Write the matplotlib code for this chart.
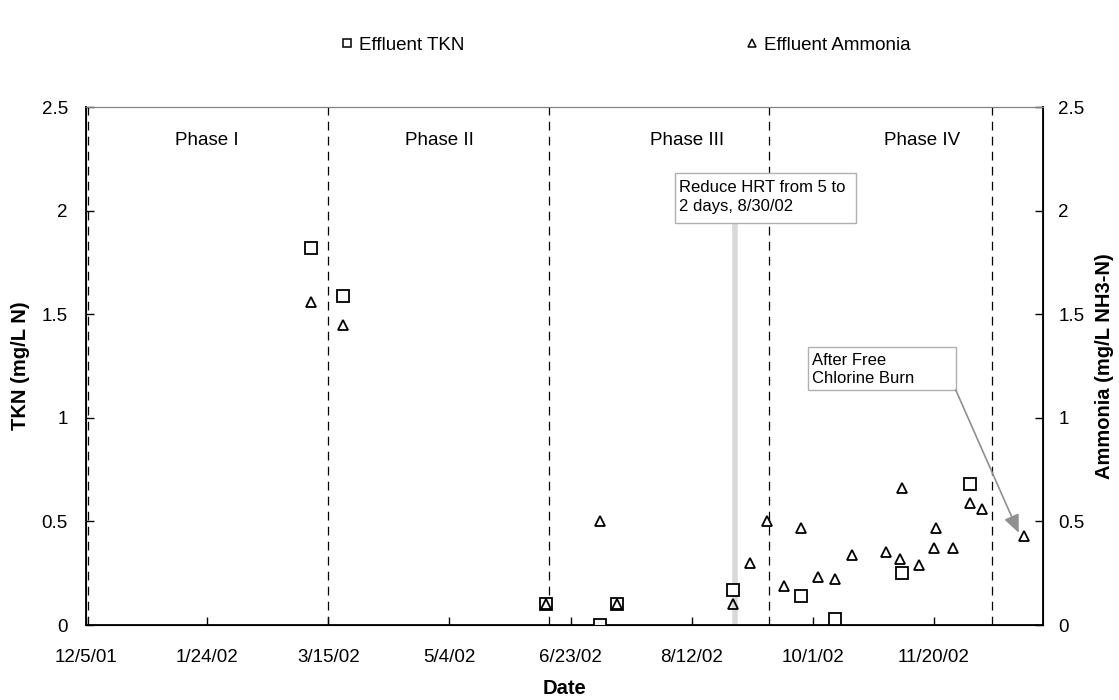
#!/usr/bin/env python3
"""Effluent TKN and ammonia over the four study phases."""

from datetime import datetime, timedelta

import matplotlib
matplotlib.use("Agg")
import matplotlib.dates as mdates
import matplotlib.pyplot as plt
from matplotlib.lines import Line2D
from matplotlib.patches import Rectangle
from matplotlib.ticker import FormatStrFormatter, FixedLocator

# --- data ---
tkn_dates = ["3/8/02", "3/21/02", "6/13/02", "7/5/02", "7/12/02", "8/29/02",
             "9/26/02", "10/10/02", "11/7/02", "12/5/02"]
tkn_values = [1.82, 1.59, 0.10, 0.00, 0.10, 0.17, 0.14, 0.03, 0.25, 0.68]

nh3_dates = ["3/8/02", "3/21/02", "6/13/02", "7/5/02", "7/12/02", "8/29/02",
             "9/5/02", "9/12/02", "9/19/02", "9/26/02", "10/3/02", "10/10/02",
             "10/17/02", "10/31/02", "11/6/02", "11/7/02", "11/14/02",
             "11/20/02", "11/21/02", "11/28/02", "12/5/02", "12/10/02",
             "12/27/02"]
nh3_values = [1.56, 1.45, 0.10, 0.50, 0.10, 0.10, 0.30, 0.50, 0.19, 0.47,
              0.23, 0.22, 0.34, 0.35, 0.32, 0.66, 0.29, 0.37, 0.47, 0.37,
              0.59, 0.56, 0.43]

phase_bounds = ["12/6/01", "3/15/02", "6/14/02", "9/13/02", "12/14/02"]
phase_labels = ["Phase I", "Phase II", "Phase III", "Phase IV"]
phase_label_dates = ["1/24/02", "4/30/02", "8/10/02", "11/15/02"]

hrt_date = "8/30/02"
x_start, x_end = "12/5/01", "1/4/03"
y_ticks = [0, 0.5, 1, 1.5, 2, 2.5]


def d(s):
    return datetime.strptime(s, "%m/%d/%y")


def callout(ax, left, right, bottom, top, text, spacing):
    x0, x1 = mdates.date2num(d(left)), mdates.date2num(d(right))
    ax.add_patch(Rectangle((x0, bottom), x1 - x0, top - bottom, fc="white",
                           ec="#b0b0b0", lw=1, zorder=6))
    ax.text(x0 + 1.6, top - 0.03, text, ha="left", va="top", fontsize=12,
            linespacing=spacing, zorder=7)


def main() -> None:
    plt.rcParams.update({
        "font.family": ["Liberation Sans", "DejaVu Sans"],
        "font.size": 13.5,
    })
    fig = plt.figure(figsize=(11.19, 7.0), dpi=100)
    ax = fig.add_axes([86 / 1119, 1 - 625 / 700, (1043 - 86) / 1119, (625 - 107) / 700])

    ax.plot([d(s) for s in tkn_dates], tkn_values, ls="none", marker="s", ms=8,
            mfc="white", mec="black", mew=1.3, zorder=4)
    ax.plot([d(s) for s in nh3_dates], nh3_values, ls="none", marker="^", ms=7.5,
            mfc="none", mec="black", mew=1.3, zorder=5)

    for s in phase_bounds:
        ax.axvline(d(s), color="black", lw=0.9, dashes=(7, 5), zorder=2)
    for lab, s in zip(phase_labels, phase_label_dates):
        ax.text(d(s), 2.34, lab, ha="center", va="center", fontsize=13.5)

    # HRT change marker and callout
    ax.plot([d(hrt_date), d(hrt_date)], [0, 1.94], color="#d9d9d9", lw=4,
            solid_capstyle="butt", zorder=1)
    callout(ax, "8/5/02", "10/19/02", 1.94, 2.18,
            "Reduce HRT from 5 to\n2 days, 8/30/02", 1.35)

    # chlorine burn callout
    callout(ax, "9/29/02", "11/29/02", 1.134, 1.342,
            "After Free\nChlorine Burn", 1.25)
    ax.annotate("", xy=(d("12/25/02"), 0.445), xytext=(d("11/29/02"), 1.134),
                arrowprops=dict(arrowstyle="-|>,head_length=0.8,head_width=0.35",
                                color="#909090", lw=1.2, shrinkA=0, shrinkB=0),
                zorder=6)

    ax.set_xlim(d(x_start), d(x_end))
    ax.set_ylim(0, 2.5)
    ticks = [d(x_start) + timedelta(days=50 * i) for i in range(8)]
    ax.xaxis.set_major_locator(FixedLocator(mdates.date2num(ticks)))
    ax.set_xticklabels([f"{t.month}/{t.day}/{t:%y}" for t in ticks])
    ax.set_yticks(y_ticks)
    ax.yaxis.set_major_formatter(FormatStrFormatter("%g"))
    ax.tick_params(direction="in", length=6, width=1, labelsize=13.5)
    ax.tick_params(axis="x", pad=17)
    ax.tick_params(axis="y", pad=13)

    for side in ("left", "bottom"):
        ax.spines[side].set_linewidth(1.3)
    ax.spines["top"].set_color("#808080")

    ax2 = ax.twinx()
    ax2.set_ylim(0, 2.5)
    ax2.set_yticks(y_ticks)
    ax2.yaxis.set_major_formatter(FormatStrFormatter("%g"))
    ax2.tick_params(direction="in", length=6, width=1, pad=11, labelsize=13.5)
    ax2.spines["right"].set_linewidth(1.3)
    ax2.spines["top"].set_color("#808080")

    ax.set_xlabel("Date", fontsize=14.5, fontweight="bold")
    ax.xaxis.set_label_coords(0.5, -0.105)
    ax.set_ylabel("TKN (mg/L N)", fontsize=14.5, fontweight="bold")
    ax.yaxis.set_label_coords(-0.059, 0.5)
    ax2.set_ylabel("Ammonia (mg/L NH3-N)", fontsize=14.5, fontweight="bold", rotation=90)
    ax2.yaxis.set_label_coords(1.054, 0.5)

    handles = [
        Line2D([], [], ls="none", marker="s", ms=6, mfc="white", mec="black", mew=1.1),
        Line2D([], [], ls="none", marker="^", ms=6, mfc="none", mec="black", mew=1.1),
    ]
    fig.legend(handles, ["Effluent TKN", "Effluent Ammonia"], ncol=2, loc="center",
               bbox_to_anchor=(626 / 1119, 1 - 45 / 700), frameon=False,
               fontsize=13.5, handlelength=0.6, handletextpad=0.35,
               columnspacing=15.0)

    fig.savefig("out.png", dpi=100)


if __name__ == "__main__":
    main()
